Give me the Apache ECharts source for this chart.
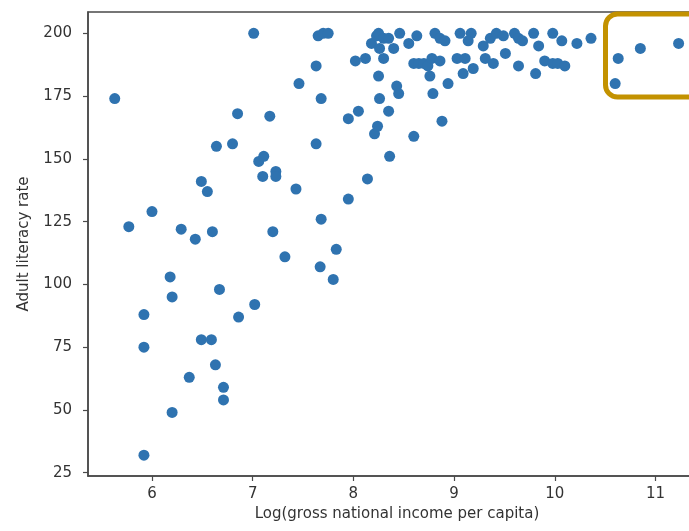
<!DOCTYPE html>
<html>
<head>
<meta charset="utf-8">
<script src="https://cdn.jsdelivr.net/npm/echarts@6/dist/echarts.min.js"></script>
<style>
html,body{margin:0;padding:0;background:#fff;}
#chart{width:689px;height:531px;}
</style>
</head>
<body>
<div id="chart"></div>
<script>
// Log(gross national income per capita)
var logIncome = [
  5.63, 5.77, 5.92, 5.92, 5.92, 6.00, 6.18, 6.20, 6.20, 6.29,
  6.37, 6.43, 6.49, 6.55, 6.49, 6.59, 6.60, 6.63, 6.64, 6.67,
  6.71, 6.71, 6.80, 6.85, 6.86, 7.01, 7.02, 7.06, 7.11, 7.10,
  7.17, 7.20, 7.23, 7.23, 7.32, 7.43, 7.46, 7.63, 7.63, 7.65,
  7.70, 7.75, 7.67, 7.68, 7.68, 7.80, 7.83, 7.95, 7.95,
  8.05, 8.14, 8.21, 8.24, 8.26, 8.25, 8.35, 8.36, 8.43, 8.45,
  8.60, 8.79, 8.88, 8.94, 8.76, 9.09, 9.19,
  8.02, 8.12, 8.30, 8.18, 8.23, 8.25, 8.30, 8.35, 8.26, 8.40,
  8.46, 8.55, 8.63,
  8.60, 8.65, 8.70, 8.74, 8.78, 8.86,
  8.81, 8.86, 8.91, 9.06, 9.17, 9.14, 9.29, 9.36, 9.42, 9.49,
  9.03, 9.11, 9.31, 9.39, 9.51,
  9.60, 9.64, 9.68, 9.79, 9.98, 10.07, 10.22, 10.36, 9.84, 9.64,
  9.81, 9.90, 9.98, 10.03, 10.10,
  10.60, 10.63, 10.85, 11.23
];
// Adult literacy rate
var literacy = [
  174, 123, 88, 75, 32, 129, 103, 95, 49, 122,
  63, 118, 141, 137, 78, 78, 121, 68, 155, 98,
  59, 54, 156, 168, 87, 200, 92, 149, 151, 143,
  167, 121, 145, 143, 111, 138, 180, 187, 156, 199,
  200, 200, 107, 174, 126, 102, 114, 166, 134,
  169, 142, 160, 163, 174, 183, 169, 151, 179, 176,
  159, 176, 165, 180, 183, 184, 186,
  189, 190, 190, 196, 199, 200, 198, 198, 194, 194,
  200, 196, 199,
  188, 188, 188, 187, 190, 189,
  200, 198, 197, 200, 200, 197, 195, 198, 200, 199,
  190, 190, 190, 188, 192,
  200, 198, 197, 200, 200, 197, 196, 198, 195, 187,
  184, 189, 188, 188, 187,
  180, 190, 194, 196
];
var xTicks = [6, 7, 8, 9, 10, 11];
var yTicks = [25, 50, 75, 100, 125, 150, 175, 200];

var points = logIncome.map(function (x, i) { return [x, literacy[i]]; });

var axisColor = '#4a4a4a';
var font = 'DejaVu Sans';
var chart = echarts.init(document.getElementById('chart'), null, {renderer: 'canvas'});
chart.setOption({
  animation: false,
  backgroundColor: '#ffffff',
  grid: {left: 88, top: 12, width: 618, height: 464, outerBoundsMode: 'none', containLabel: false,
         show: true, borderColor: axisColor, borderWidth: 1.5, backgroundColor: 'transparent'},
  xAxis: {
    type: 'value', min: 5.3645, max: 11.502,
    name: 'Log(gross national income per capita)', nameLocation: 'middle', nameGap: 31,
    nameTextStyle: {fontFamily: font, fontSize: 15, color: '#333'},
    axisLine: {show: true, lineStyle: {color: axisColor, width: 1.5}},
    axisTick: {show: true, length: 5, customValues: xTicks, lineStyle: {color: axisColor, width: 1.2}},
    axisLabel: {customValues: xTicks, margin: 11, fontFamily: font, fontSize: 15, color: '#333'},
    splitLine: {show: false}
  },
  yAxis: {
    type: 'value', min: 23.7, max: 208.5,
    name: 'Adult literacy rate', nameLocation: 'middle', nameGap: 56, nameRotate: 90,
    nameTextStyle: {fontFamily: font, fontSize: 15, color: '#333'},
    axisLine: {show: true, lineStyle: {color: axisColor, width: 1.5}},
    axisTick: {show: true, length: 5, customValues: yTicks, lineStyle: {color: axisColor, width: 1.2}},
    axisLabel: {customValues: yTicks, margin: 16, fontFamily: font, fontSize: 15, color: '#333'},
    splitLine: {show: false}
  },
  series: [{
    type: 'scatter',
    data: points,
    symbolSize: 11,
    itemStyle: {color: '#2f73b0', opacity: 1}
  }],
  graphic: [{
    type: 'rect', z: 100,
    shape: {x: 605.5, y: 14, width: 130, height: 83, r: 12},
    style: {fill: 'none', stroke: '#C39200', lineWidth: 5}
  }]
});
</script>
</body>
</html>
